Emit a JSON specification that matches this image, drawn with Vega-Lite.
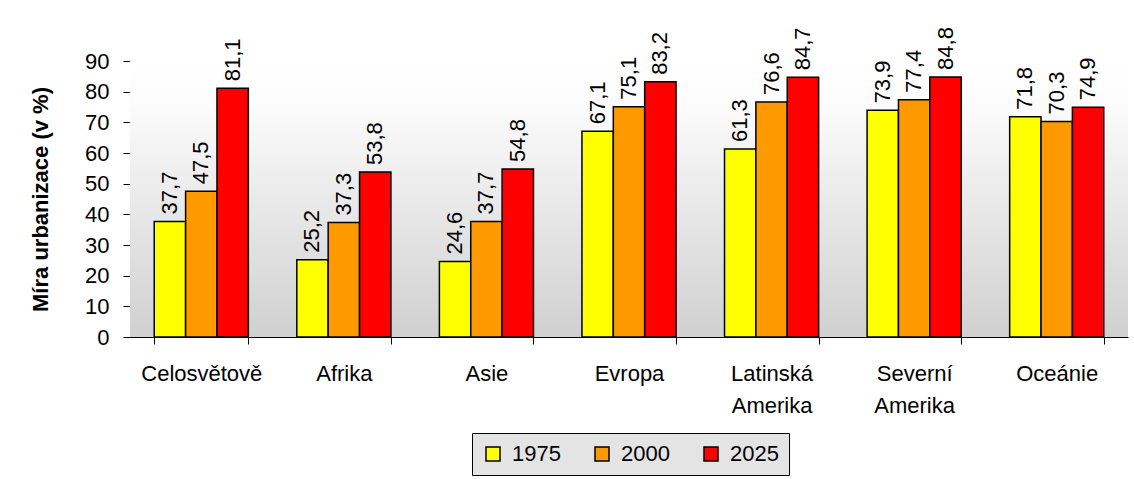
{
  "$schema": "https://vega.github.io/schema/vega-lite/v6.json",
  "width": 998,
  "height": 276,
  "autosize": "none",
  "padding": {"left": 130, "top": 61, "right": 6, "bottom": 142},
  "background": "#ffffff",
  "config": {
    "font": "Liberation Sans",
    "view": {"stroke": null},
    "locale": {"number": {"decimal": ",", "thousands": " ", "grouping": [3], "currency": ["", " Kč"]}},
    "axis": {
      "zindex": 2, "domainColor": "#000000", "tickColor": "#000000", "tickSize": 7,
      "labelFontSize": 22, "labelColor": "#000000", "grid": false, "labelOverlap": false
    },
    "axisX": {
      "labelAngle": 0, "tickBand": "extent", "labelPadding": 19,
      "labelLineHeight": 32, "labelBaseline": "top"
    },
    "axisY": {
      "tickCount": 10, "labelPadding": 14, "titleFontSize": 22, "titleFontWeight": "bold",
      "titleColor": "#000000", "titlePadding": 32
    }
  },
  "data": {
    "values": [
      {"oblast": "Celosvětově", "rok": "1975", "hodnota": 37.7},
      {"oblast": "Celosvětově", "rok": "2000", "hodnota": 47.5},
      {"oblast": "Celosvětově", "rok": "2025", "hodnota": 81.1},
      {"oblast": "Afrika", "rok": "1975", "hodnota": 25.2},
      {"oblast": "Afrika", "rok": "2000", "hodnota": 37.3},
      {"oblast": "Afrika", "rok": "2025", "hodnota": 53.8},
      {"oblast": "Asie", "rok": "1975", "hodnota": 24.6},
      {"oblast": "Asie", "rok": "2000", "hodnota": 37.7},
      {"oblast": "Asie", "rok": "2025", "hodnota": 54.8},
      {"oblast": "Evropa", "rok": "1975", "hodnota": 67.1},
      {"oblast": "Evropa", "rok": "2000", "hodnota": 75.1},
      {"oblast": "Evropa", "rok": "2025", "hodnota": 83.2},
      {"oblast": "Latinská Amerika", "rok": "1975", "hodnota": 61.3},
      {"oblast": "Latinská Amerika", "rok": "2000", "hodnota": 76.6},
      {"oblast": "Latinská Amerika", "rok": "2025", "hodnota": 84.7},
      {"oblast": "Severní Amerika", "rok": "1975", "hodnota": 73.9},
      {"oblast": "Severní Amerika", "rok": "2000", "hodnota": 77.4},
      {"oblast": "Severní Amerika", "rok": "2025", "hodnota": 84.8},
      {"oblast": "Oceánie", "rok": "1975", "hodnota": 71.8},
      {"oblast": "Oceánie", "rok": "2000", "hodnota": 70.3},
      {"oblast": "Oceánie", "rok": "2025", "hodnota": 74.9}
    ]
  },
  "layer": [
    {
      "data": {"values": [{}]},
      "mark": {
        "type": "rect",
        "fill": {
          "gradient": "linear", "x1": 0, "y1": 0, "x2": 0, "y2": 1,
          "stops": [
            {"offset": 0, "color": "#ffffff"},
            {"offset": 0.15, "color": "#fcfcfc"},
            {"offset": 1, "color": "#d0d0d0"}
          ]
        }
      },
      "encoding": {
        "y": {"datum": 90, "type": "quantitative", "scale": {"domain": [0, 90], "nice": false}, "axis": {"title": "Míra urbanizace (v %)"}},
        "y2": {"datum": 0}
      }
    },
    {
      "mark": {"type": "bar", "stroke": "#000000", "strokeWidth": 1.5},
      "encoding": {
        "x": {
          "field": "oblast", "type": "nominal", "sort": null,
          "scale": {"paddingInner": 0.34, "paddingOuter": 0.17},
          "axis": {"title": null, "labelExpr": "split(datum.label, ' ')"}
        },
        "xOffset": {"field": "rok", "type": "nominal", "scale": {"paddingInner": 0, "paddingOuter": 0}},
        "y": {
          "field": "hodnota", "type": "quantitative",
          "scale": {"domain": [0, 90], "nice": false},
          "axis": {"title": "Míra urbanizace (v %)"}
        },
        "color": {
          "field": "rok", "type": "nominal",
          "scale": {"domain": ["1975", "2000", "2025"], "range": ["#ffff00", "#ff9900", "#ff0000"]},
          "legend": {
            "title": null, "orient": "none", "legendX": 342, "legendY": 372,
            "direction": "horizontal", "symbolType": "square", "symbolSize": 196,
            "symbolStrokeColor": "#000000", "symbolStrokeWidth": 1.5,
            "labelFontSize": 22, "labelColor": "#000000", "labelOffset": 8,
            "columnPadding": 30, "padding": 10, "strokeColor": "#000000",
            "fillColor": "#e4e4e4"
          }
        }
      }
    },
    {
      "mark": {"type": "text", "angle": -90, "align": "left", "baseline": "middle", "dx": 7, "fontSize": 22, "color": "#000000"},
      "encoding": {
        "x": {"field": "oblast", "type": "nominal", "sort": null, "axis": {"title": null, "labelExpr": "split(datum.label, ' ')"}},
        "xOffset": {"field": "rok", "type": "nominal"},
        "y": {"field": "hodnota", "type": "quantitative", "axis": {"title": "Míra urbanizace (v %)"}},
        "text": {"field": "hodnota", "type": "quantitative", "format": ".1f"}
      }
    }
  ]
}
